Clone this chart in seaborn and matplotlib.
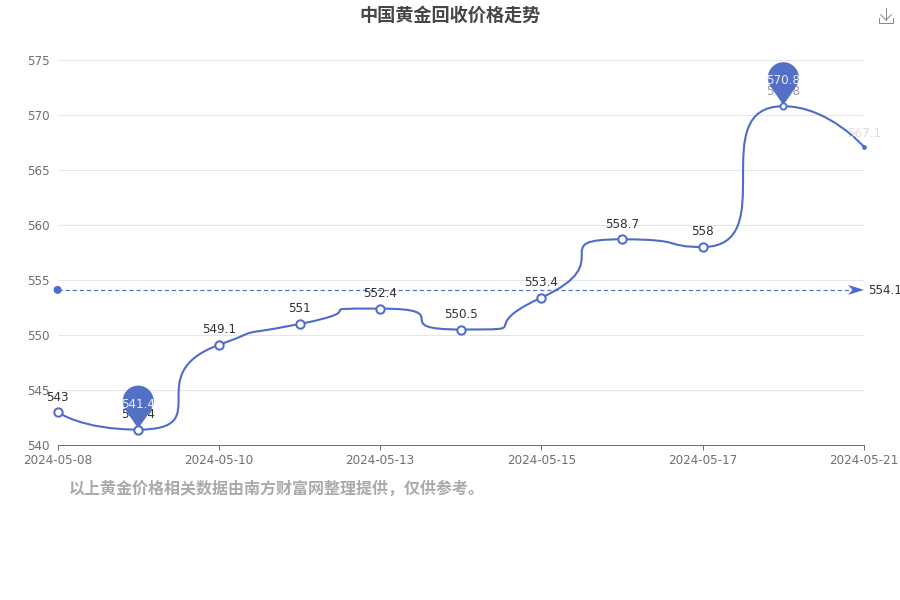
import numpy as np
import pandas as pd
import matplotlib
matplotlib.use("Agg")
import matplotlib.pyplot as plt
from matplotlib.path import Path
from matplotlib.patches import PathPatch, Polygon, Circle
from matplotlib.lines import Line2D
from matplotlib.transforms import IdentityTransform
import seaborn as sns

dates = ["2024-05-08", "2024-05-09", "2024-05-10", "2024-05-11", "2024-05-13", "2024-05-14",
         "2024-05-15", "2024-05-16", "2024-05-17", "2024-05-20", "2024-05-21"]
prices = [543, 541.4, 549.1, 551, 552.4, 550.5, 553.4, 558.7, 558, 570.8, 567.1]
labels = ["543", "541.4", "549.1", "551", "552.4", "550.5", "553.4", "558.7", "558", "570.8", "567.1"]
mean_price = 554.1
y_ticks = [540, 545, 550, 555, 560, 565, 570, 575]
title = "中国黄金回收价格走势"
note = "以上黄金价格相关数据由南方财富网整理提供，仅供参考。"

BLUE = "#5470C6"
LINE = "#4F6BCB"
AXIS = "#6E7079"
GRID = "#E0E6F1"

sns.set_style("white")
plt.rcParams["font.family"] = ["DejaVu Sans", "Noto Sans CJK SC"]

W, H = 900, 600
fig = plt.figure(figsize=(9, 6), dpi=100, facecolor="white")
ax = fig.add_axes([57.6 / W, 1 - 445 / H, 806.4 / W, 385 / H])
xs = np.arange(len(prices))
ax.set_xlim(0, len(prices) - 1)
ax.set_ylim(540, 575)


def smooth_path(px, py, smooth=1.0):
    n = len(px)
    verts = [(px[0], py[0])]
    codes = [Path.MOVETO]
    cp0 = (px[0], py[0])
    for i in range(1, n):
        x, y = px[i], py[i]
        pvx, pvy = px[i - 1], py[i - 1]
        if i == n - 1:
            ncx, ncy = x, y
            cx1, cy1 = x, y
        else:
            nx, ny = px[i + 1], py[i + 1]
            vx, vy = nx - pvx, ny - pvy
            lp = np.hypot(x - pvx, y - pvy)
            ln = np.hypot(nx - x, ny - y)
            r = ln / (ln + lp)
            cx1 = x + vx * smooth * r
            cy1 = y + vy * smooth * r
            cx1 = max(min(cx1, max(nx, x)), min(nx, x))
            cy1 = max(min(cy1, max(ny, y)), min(ny, y))
            vx, vy = cx1 - x, cy1 - y
            ncx = x - vx * lp / ln
            ncy = y - vy * lp / ln
            ncx = max(min(ncx, max(pvx, x)), min(pvx, x))
            ncy = max(min(ncy, max(pvy, y)), min(pvy, y))
            vx, vy = x - ncx, y - ncy
            cx1 = x + vx * ln / lp
            cy1 = y + vy * ln / lp
        verts += [cp0, (ncx, ncy), (x, y)]
        codes += [Path.CURVE4] * 3
        cp0 = (cx1, cy1)
    return Path(verts, codes)


# axes styling
ax.set_yticks(y_ticks)
ax.set_xticks(xs[::2])
ax.set_xticklabels(dates[::2])
ax.tick_params(axis="x", bottom=True, length=3.6, width=0.72, color=AXIS, labelcolor=AXIS,
               labelsize=8.64, pad=2.8)
ax.tick_params(axis="y", length=0, labelcolor=AXIS, labelsize=8.64, pad=6.0)
ax.grid(axis="y", color=GRID, linewidth=0.72)
ax.set_axisbelow(True)
sns.despine(ax=ax, left=True, top=True, right=True)
ax.spines["bottom"].set_color(AXIS)
ax.spines["bottom"].set_linewidth(0.72)

# curve
pix = ax.transData.transform(np.column_stack([xs, prices]))
path = smooth_path(pix[:, 0], pix[:, 1])
ax.add_patch(PathPatch(path, transform=IdentityTransform(), fc="none", ec=LINE, lw=1.5,
                       zorder=3, clip_on=False))

# mean line
my = ax.transData.transform((0, mean_price))
x0, x1 = ax.transData.transform((0, 0))[0], ax.transData.transform((xs[-1], 0))[0]
ax.add_artist(Line2D([x0, x1 - 10], [my[1], my[1]], transform=IdentityTransform(), color=BLUE,
                     lw=0.85, ls=(0, (3.6, 2.4)), zorder=2, clip_on=False))
ym = my[1]
ax.add_patch(Polygon([(x1 - 16, ym + 5), (x1, ym), (x1 - 16, ym - 5), (x1 - 11.5, ym)],
                     transform=IdentityTransform(), fc=LINE, ec="none", zorder=3, clip_on=False))
ax.add_patch(Circle((x0, ym), 4.0, transform=IdentityTransform(), fc=LINE, ec="none",
                    zorder=3, clip_on=False))
fig.text(868.6 / W, 1 - 290 / H, f"{mean_price}", fontsize=8.64, color="#333333", va="center", ha="left")

# markers: regular points, the maximum (slightly smaller), the final dot
mask = np.ones(len(prices), dtype=bool)
mask[-1] = False
mask[int(np.argmax(prices))] = False
df = pd.DataFrame({"x": xs[mask], "y": np.array(prices)[mask]})
sns.scatterplot(data=df, x="x", y="y", s=36, color="white", edgecolor=LINE, linewidth=1.45,
                ax=ax, zorder=5, clip_on=False)
imax = int(np.argmax(prices))
sns.scatterplot(x=xs[[imax]], y=[prices[imax]], s=20, color="white", edgecolor=LINE, linewidth=1.3,
                ax=ax, zorder=5, clip_on=False)
sns.scatterplot(x=xs[-1:], y=prices[-1:], s=8, color=LINE, edgecolor=LINE, linewidth=0.5,
                ax=ax, zorder=5, clip_on=False)
ax.set_xlabel("")
ax.set_ylabel("")

# value labels
for i, (v, lab) in enumerate(zip(prices, labels)):
    c = "#333333"
    off = 11.0
    if i == 0:
        off = 10.4
    if i == 9:
        c = "#999999"
        off = 10.4
    if i == 10:
        c = "#DDDDDD"
        off = 9.4
    ax.annotate(lab, (i, v), xytext=(0, off), textcoords="offset points", ha="center", va="center",
                fontsize=8.64, color=c, zorder=4, annotation_clip=False)


# pins
def pin(i, v, lab):
    tx, ty = ax.transData.transform((i, v))
    r = 15.5
    d = 28.5
    cy = ty + d
    a = np.arcsin(r / d)
    th = np.linspace(-a, np.pi + a, 60)
    pts = [(tx + r * np.cos(t), cy + r * np.sin(t)) for t in th]
    ax.add_patch(Polygon([(tx, ty + 1)] + pts, transform=IdentityTransform(), fc=BLUE, ec="none",
                         zorder=4.5, clip_on=False))
    ax.text(tx, cy - 3, lab, transform=IdentityTransform(), ha="center", va="center",
            fontsize=8.64, color="#E8ECF8", zorder=6)


pin(1, prices[1], labels[1])
pin(9, prices[9], labels[9])

# title, note
fig.text(450 / W, 1 - 15 / H, title, family=["Noto Sans CJK SC"], fontsize=13.1, fontweight="bold",
         color="#464646", ha="center", va="center")
fig.text(69 / W, 1 - 489 / H, note, family=["Noto Sans CJK SC"], fontsize=11.52, fontweight="bold",
         color="#AAAAAA", ha="left", va="center")

# download icon
ICON = "#8A8A8A"
for seg in [[(886, 8), (886, 20)], [(880.5, 14.5), (886, 20)], [(891.5, 14.5), (886, 20)],
            [(879, 17.5), (879, 22.5)], [(879, 22.5), (893, 22.5)], [(893, 22.5), (893, 17.5)]]:
    fig.add_artist(Line2D([p[0] / W for p in seg], [1 - p[1] / H for p in seg], color=ICON, lw=0.72,
                          transform=fig.transFigure))

fig.savefig("out.png", dpi=100, facecolor="white")
